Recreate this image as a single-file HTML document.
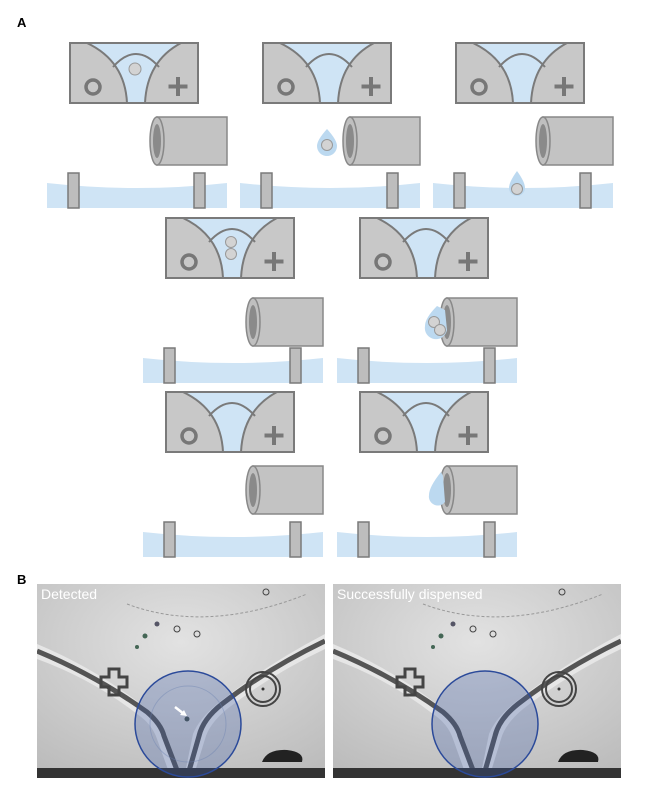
<!DOCTYPE html>
<html><head><meta charset="utf-8"><style>
html,body{margin:0;padding:0;background:#fff;width:650px;height:809px;overflow:hidden}
svg{display:block}
</style></head><body>
<svg width="650" height="809" viewBox="0 0 650 809" xmlns="http://www.w3.org/2000/svg">
<defs>
<g id="chip">
  <rect x="23" y="0" width="128" height="60" fill="#cfe4f5"/>
  <path d="M40,0 Q78,18 80,60 L23,60 L23,0 Z" fill="#c8c8c8"/>
  <path d="M40,0 Q78,18 80,60" fill="none" stroke="#7a7a7a" stroke-width="2"/>
  <path d="M134,0 Q100,18 98,60 L151,60 L151,0 Z" fill="#c8c8c8"/>
  <path d="M134,0 Q100,18 98,60" fill="none" stroke="#7a7a7a" stroke-width="2"/>
  <path d="M66,24 Q89,-2 112,24" fill="none" stroke="#7a7a7a" stroke-width="2"/>
  <rect x="23" y="0" width="128" height="60" fill="none" stroke="#7a7a7a" stroke-width="2"/>
  <circle cx="46" cy="44" r="7" fill="none" stroke="#777" stroke-width="3.5"/>
  <path d="M131,34 V53 M121.5,43.5 H140.5" stroke="#777" stroke-width="4"/>
</g>
<g id="liq">
  <path d="M0,140 Q90,150 180,140 L180,165 L0,165 Z" fill="#cfe4f5"/>
  <rect x="21" y="130" width="11" height="35" fill="#bdbdbd" stroke="#7a7a7a" stroke-width="1.5"/>
  <rect x="147" y="130" width="11" height="35" fill="#bdbdbd" stroke="#7a7a7a" stroke-width="1.5"/>
</g>
<g id="tube">
  <rect x="0" y="0" width="70" height="48" fill="#c3c3c3" stroke="#888" stroke-width="1.5"/>
  <ellipse cx="0" cy="24" rx="7" ry="24" fill="#bfbfbf" stroke="#888" stroke-width="1.5"/>
  <ellipse cx="0" cy="24" rx="4" ry="17" fill="#8a8a8a"/>
</g>
<radialGradient id="bg" cx="0.5" cy="0.3" r="0.8">
  <stop offset="0" stop-color="#e2e2e2"/><stop offset="1" stop-color="#bcbcbc"/>
</radialGradient>
<clipPath id="c1"><rect x="0" y="0" width="288" height="194"/></clipPath>
<g id="photo">
  <g clip-path="url(#c1)">
  <rect x="0" y="0" width="288" height="194" fill="url(#bg)"/>
  <path d="M0,60 Q60,85 110,125 Q125,140 128,150 L143,194 L147,194 L156,150 Q162,135 180,120 Q230,80 288,50 L288,65 Q235,90 190,125 Q172,140 168,155 L156,194 L134,194 L120,155 Q115,140 100,130 Q55,95 0,75 Z" fill="#e6e6e6"/>
  <path d="M0,67 Q60,92 110,128 Q124,140 127,152 L143,194" fill="none" stroke="#555" stroke-width="5"/>
  <path d="M288,57 Q230,85 185,120 Q166,135 162,152 L150,194" fill="none" stroke="#555" stroke-width="5"/>
  <path d="M90,20 Q170,50 270,10" fill="none" stroke="#999" stroke-width="1" stroke-dasharray="3,2"/>
  <rect x="0" y="184" width="288" height="10" fill="#333"/>
  <path d="M225,178 Q230,165 250,166 Q268,168 265,178 Z" fill="#222"/>
  <circle cx="226" cy="105" r="17" fill="none" stroke="#444" stroke-width="2"/>
  <circle cx="226" cy="105" r="13" fill="none" stroke="#444" stroke-width="2"/>
  <circle cx="226" cy="105" r="1.5" fill="#333"/>
  <path d="M72,85 h10 v8 h8 v10 h-8 v8 h-10 v-8 h-8 v-10 h8 z" fill="none" stroke="#444" stroke-width="3"/>
  <circle cx="120" cy="40" r="2.5" fill="#556"/><circle cx="140" cy="45" r="3" fill="none" stroke="#444"/>
  <circle cx="108" cy="52" r="2.5" fill="#465"/><circle cx="160" cy="50" r="3" fill="none" stroke="#444"/>
  <circle cx="229" cy="8" r="3" fill="none" stroke="#444"/><circle cx="100" cy="63" r="2" fill="#465"/>
  </g>
</g>
</defs>
<text x="17" y="27" font-family="Liberation Sans, sans-serif" font-weight="bold" font-size="13">A</text>
<text x="17" y="584" font-family="Liberation Sans, sans-serif" font-weight="bold" font-size="13">B</text>

<g transform="translate(47,43)"><use href="#chip"/><circle cx="88" cy="26" r="6" fill="#d3d3d3" stroke="#999"/><use href="#liq"/><use href="#tube" transform="translate(110,74)"/></g>
<g transform="translate(240,43)"><use href="#chip"/><use href="#liq"/><use href="#tube" transform="translate(110,74)"/><path d="M87,86 Q77,97 77,103 A10,10 0 0 0 97,103 Q97,97 87,86Z" fill="#bcd9f0"/><circle cx="87" cy="102" r="5.5" fill="#d3d3d3" stroke="#999"/></g>
<g transform="translate(433,43)"><use href="#chip"/><use href="#liq"/><use href="#tube" transform="translate(110,74)"/><path d="M84,128 Q76,139 76,145 A8,8 0 0 0 92,145 Q92,139 84,128Z" fill="#bcd9f0"/><circle cx="84" cy="146" r="5.5" fill="#d3d3d3" stroke="#999"/></g>

<g transform="translate(143,218)"><use href="#chip"/><circle cx="88" cy="24" r="5.5" fill="#d3d3d3" stroke="#999"/><circle cx="88" cy="36" r="5.5" fill="#d3d3d3" stroke="#999"/><use href="#liq"/><use href="#tube" transform="translate(110,80)"/></g>
<g transform="translate(337,218)"><use href="#chip"/><use href="#liq"/><use href="#tube" transform="translate(110,80)"/><path d="M100,88 Q88,100 88,108 A11,11 0 0 0 110,112 L108,92Z" fill="#bcd9f0"/><circle cx="97" cy="104" r="5.5" fill="#d3d3d3" stroke="#999"/><circle cx="103" cy="112" r="5.5" fill="#d3d3d3" stroke="#999"/></g>

<g transform="translate(143,392)"><use href="#chip"/><use href="#liq"/><use href="#tube" transform="translate(110,74)"/></g>
<g transform="translate(337,392)"><use href="#chip"/><use href="#liq"/><use href="#tube" transform="translate(110,74)"/><path d="M104,80 Q92,95 92,103 A9,9 0 0 0 108,110 L106,84Z" fill="#bcd9f0"/></g>

<g transform="translate(37,584)"><use href="#photo"/>
<circle cx="151" cy="140" r="53" fill="#3a5aa8" fill-opacity="0.28" stroke="#2b4a9a" stroke-width="1.5"/>
<circle cx="151" cy="140" r="38" fill="none" stroke="#6a80b0" stroke-opacity="0.4"/>
<path d="M138,123 L147,130" stroke="#fff" stroke-width="2.5"/><path d="M150,132 L143,131 L147,126Z" fill="#fff"/>
<circle cx="150" cy="135" r="2.5" fill="#456"/>
<text x="4" y="15" font-family="Liberation Sans, sans-serif" font-size="14" fill="#fff">Detected</text></g>
<g transform="translate(333,584)"><use href="#photo"/>
<circle cx="152" cy="140" r="53" fill="#3a5aa8" fill-opacity="0.28" stroke="#2b4a9a" stroke-width="1.5"/>
<text x="4" y="15" font-family="Liberation Sans, sans-serif" font-size="14" fill="#fff">Successfully dispensed</text></g>
</svg>
</body></html>
